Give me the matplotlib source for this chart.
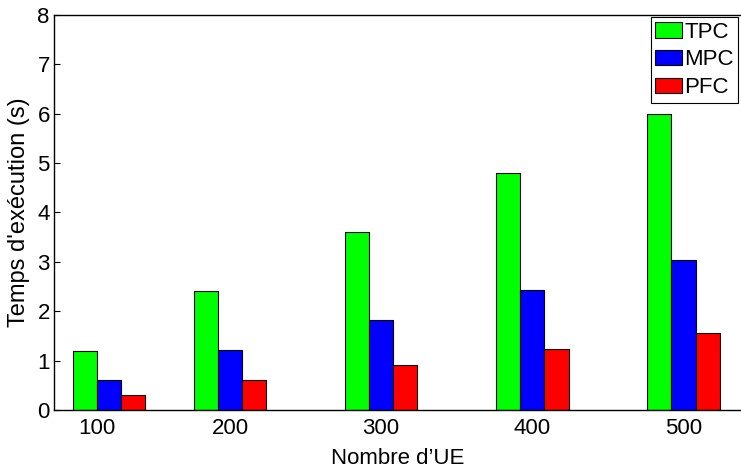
import numpy as np
import matplotlib
matplotlib.use('Agg')
import matplotlib.pyplot as plt

plt.rcParams['font.family'] = ['Liberation Sans', 'DejaVu Sans']

# Données
nb_ue = [120, 200, 300, 400, 500]
etiquettes = ['100', '200', '300', '400', '500']
pos_etiquettes = [112, 200, 300, 400, 500]
tpc = [1.2, 2.4, 3.6, 4.8, 6.0]
mpc = [0.6, 1.21, 1.82, 2.43, 3.04]
pfc = [0.3, 0.61, 0.92, 1.23, 1.55]

series = [('TPC', tpc, '#00ff00'), ('MPC', mpc, '#0000ff'), ('PFC', pfc, '#ff0000')]

fig = plt.figure(figsize=(7.41, 4.74), dpi=100)
ax = fig.add_axes([54 / 741, 64 / 474, 1 - 54 / 741, (410 - 14.7) / 474])

largeur = 16
x = np.array(nb_ue, dtype=float)
for i, (nom, vals, couleur) in enumerate(series):
    ax.bar(x + (i - 1) * largeur, vals, width=largeur, color=couleur,
           edgecolor='black', linewidth=0.8, label=nom)

ax.set_xlim(83.6, 538)
ax.set_ylim(0, 8)
ax.set_yticks(range(0, 9))
ax.set_xticks(pos_etiquettes)
ax.set_xticklabels(etiquettes)
ax.tick_params(axis='y', direction='in', length=4, labelsize=16, pad=3)
ax.tick_params(axis='x', length=0, labelsize=16, pad=6)
ax.spines['right'].set_visible(False)
for s in ['left', 'bottom', 'top']:
    ax.spines[s].set_linewidth(1.0)

ax.set_xlabel('Nombre d’UE', fontsize=16, labelpad=6)
ax.set_ylabel("Temps d'exécution (s)", fontsize=17, labelpad=5)

leg = ax.legend(loc='upper right', fontsize=16, frameon=True, fancybox=False,
                edgecolor='black', framealpha=1, borderpad=0.2,
                labelspacing=0.3, handlelength=1.2, handleheight=0.7,
                handletextpad=0.12, borderaxespad=0.12)
leg.get_frame().set_linewidth(0.8)

fig.savefig('out.png', dpi=100)
